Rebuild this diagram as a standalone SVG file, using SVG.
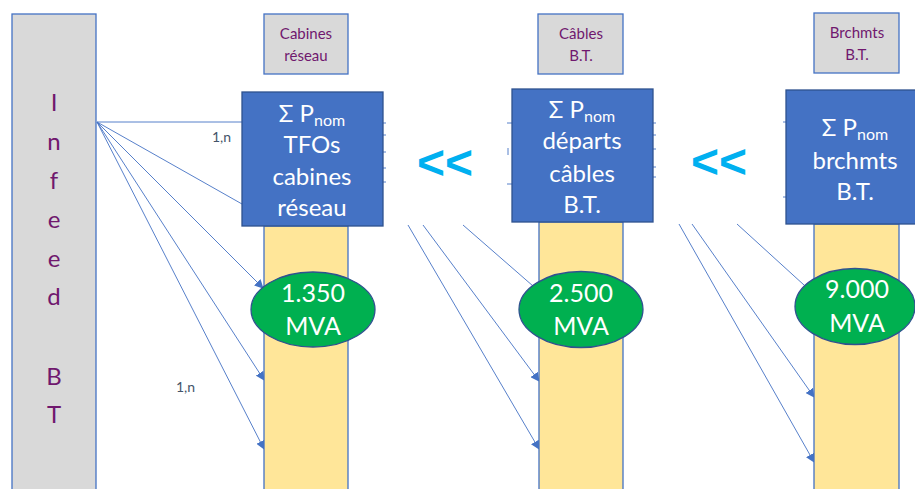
<svg xmlns="http://www.w3.org/2000/svg" width="915" height="489" viewBox="0 0 915 489">
<style>
.gray{fill:#d9d9d9;stroke:#4472c4;stroke-width:1.3}
.blue{fill:#4472c4;stroke:#2f528f;stroke-width:1.3}
.col{fill:#ffe699;stroke:#4472c4;stroke-width:1.3}
.ell{fill:#00b050;stroke:#2f528f;stroke-width:1.3}
.lbl{font-family:Lato,"Liberation Sans",sans-serif;font-size:15px;fill:#70186e;text-anchor:middle}
.inf{font-family:Lato,"Liberation Sans",sans-serif;font-size:24px;fill:#70186e;text-anchor:middle}
.wt{font-family:Lato,"Liberation Sans",sans-serif;font-size:24px;fill:#ffffff;text-anchor:middle}
.mv{font-size:25px}
.sub{font-size:16px}
.ll{font-family:"Liberation Sans",Arial,sans-serif;font-size:48px;font-weight:bold;fill:#00b0f0;text-anchor:middle}
.card{font-family:Lato,"Liberation Sans",sans-serif;font-size:14px;fill:#44546a}
.cn{stroke:#4472c4;stroke-width:0.9;fill:none}
.ar{marker-end:url(#ah)}
</style>
<defs>
<marker id="ah" viewBox="0 0 10 10" refX="9" refY="5" markerWidth="9" markerHeight="9" markerUnits="userSpaceOnUse" orient="auto">
<path d="M0,0 L10,5 L0,10 Z" fill="#4472c4"/>
</marker>
</defs>

<g id="infeed">
<rect class="gray" x="12" y="14" width="84" height="480"/>
<text class="inf" x="54" y="111">I</text>
<text class="inf" x="54" y="150">n</text>
<text class="inf" x="54" y="189">f</text>
<text class="inf" x="54" y="228">e</text>
<text class="inf" x="54" y="267">e</text>
<text class="inf" x="54" y="305">d</text>
<text class="inf" x="54" y="385">B</text>
<text class="inf" x="54" y="423">T</text>
</g>

<g id="connectors">
<line class="cn" x1="97" y1="122" x2="242" y2="122"/>
<line class="cn" x1="97" y1="122" x2="242" y2="204"/>
<line class="cn ar" x1="97" y1="122" x2="263" y2="288"/>
<line class="cn ar" x1="97" y1="122" x2="264" y2="380"/>
<line class="cn ar" x1="97" y1="122" x2="264" y2="449"/>
<line class="cn ar" x1="408" y1="225" x2="539" y2="449"/>
<line class="cn ar" x1="423" y1="225" x2="539" y2="381"/>
<line class="cn" x1="463" y1="225" x2="533" y2="286"/>
<line class="cn ar" x1="679" y1="224" x2="814" y2="462"/>
<line class="cn ar" x1="692" y1="224" x2="814" y2="397"/>
<line class="cn" x1="737" y1="224" x2="804" y2="285"/>
<line class="cn" x1="383" y1="123" x2="386" y2="123"/>
<line class="cn" x1="383" y1="135" x2="386" y2="135"/>
<line class="cn" x1="383" y1="152" x2="386" y2="152"/>
<line class="cn" x1="383" y1="168" x2="386" y2="168"/>
<line class="cn" x1="383" y1="182" x2="386" y2="182"/>
<line class="cn" x1="507" y1="123" x2="512" y2="123"/>
<line class="cn" x1="507" y1="184" x2="512" y2="184"/>
<line class="cn" x1="508" y1="148" x2="508" y2="155"/>
<line class="cn" x1="653" y1="123" x2="656" y2="123"/>
<line class="cn" x1="653" y1="135" x2="656" y2="135"/>
<line class="cn" x1="653" y1="149" x2="656" y2="149"/>
<line class="cn" x1="653" y1="167" x2="656" y2="167"/>
<line class="cn" x1="653" y1="177" x2="656" y2="177"/>
<line class="cn" x1="783" y1="122" x2="786" y2="122"/>
<line class="cn" x1="783" y1="197" x2="786" y2="197"/>
<text class="card" x="212" y="142">1,n</text>
<text class="card" x="176" y="392">1,n</text>
</g>

<g id="cabines-label">
<rect class="gray" x="264" y="14" width="84" height="60"/>
<text class="lbl" x="306" y="39">Cabines</text>
<text class="lbl" x="306" y="61">réseau</text>
</g>

<g id="cabines-col">
<rect class="col" x="264" y="226" width="84" height="268"/>
</g>
<g id="cabines-box">
<rect class="blue" x="242" y="92" width="141" height="134"/>
<text class="wt" x="312" y="122">Σ P<tspan class="sub" dy="4">nom</tspan></text>
<text class="wt" x="312" y="153">TFOs</text>
<text class="wt" x="312" y="185">cabines</text>
<text class="wt" x="312" y="216">réseau</text>
</g>
<g id="cabines-mva">
<ellipse class="ell" cx="313" cy="309.5" rx="62" ry="37.5"/>
<text class="wt mv" x="313" y="302">1.350</text>
<text class="wt mv" x="313" y="335">MVA</text>
</g>

<g id="cables-label">
<rect class="gray" x="538" y="14" width="85" height="60"/>
<text class="lbl" x="581" y="39">Câbles</text>
<text class="lbl" x="581" y="61">B.T.</text>
</g>
<g id="cables-col">
<rect class="col" x="539" y="222" width="84" height="272"/>
</g>
<g id="cables-box">
<rect class="blue" x="512" y="89" width="141" height="133"/>
<text class="wt" x="582" y="118">Σ P<tspan class="sub" dy="4">nom</tspan></text>
<text class="wt" x="582" y="149">départs</text>
<text class="wt" x="582" y="182">câbles</text>
<text class="wt" x="582" y="213">B.T.</text>
</g>
<g id="cables-mva">
<ellipse class="ell" cx="581" cy="309.5" rx="62" ry="38"/>
<text class="wt mv" x="581" y="302">2.500</text>
<text class="wt mv" x="581" y="335">MVA</text>
</g>

<g id="brchmts-label">
<rect class="gray" x="814" y="13" width="85" height="60"/>
<text class="lbl" x="857" y="38">Brchmts</text>
<text class="lbl" x="857" y="60">B.T.</text>
</g>
<g id="brchmts-col">
<rect class="col" x="814" y="224" width="85" height="270"/>
</g>
<g id="brchmts-box">
<rect class="blue" x="786" y="90" width="140" height="134"/>
<text class="wt" x="855" y="136">Σ P<tspan class="sub" dy="4">nom</tspan></text>
<text class="wt" x="855" y="169">brchmts</text>
<text class="wt" x="855" y="200">B.T.</text>
</g>
<g id="brchmts-mva">
<ellipse class="ell" cx="855" cy="306.5" rx="60" ry="38"/>
<text class="wt mv" x="857" y="298">9.000</text>
<text class="wt mv" x="857" y="332">MVA</text>
</g>

<g id="lt1"><text class="ll" x="445" y="179">&lt;&lt;</text></g>
<g id="lt2"><text class="ll" x="719" y="178">&lt;&lt;</text></g>
</svg>
